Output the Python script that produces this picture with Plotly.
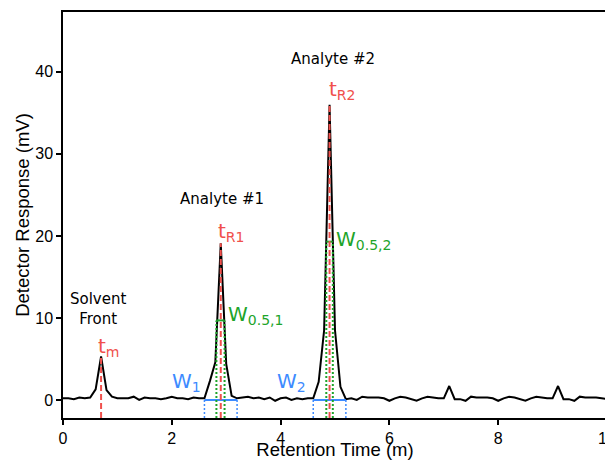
import plotly.graph_objects as go

# ---- data ----
time_min = [0.0, 0.1, 0.2, 0.3, 0.4, 0.5, 0.6, 0.7, 0.8, 0.9,
            1.0, 1.1, 1.2, 1.3, 1.4, 1.5, 1.6, 1.7, 1.8, 1.9,
            2.0, 2.1, 2.2, 2.3, 2.4, 2.5, 2.6, 2.7, 2.8, 2.9,
            3.0, 3.1, 3.2, 3.3, 3.4, 3.5, 3.6, 3.7, 3.8, 3.9,
            4.0, 4.1, 4.2, 4.3, 4.4, 4.5, 4.6, 4.7, 4.8, 4.9,
            5.0, 5.1, 5.2, 5.3, 5.4, 5.5, 5.6, 5.7, 5.8, 5.9,
            6.0, 6.1, 6.2, 6.3, 6.4, 6.5, 6.6, 6.7, 6.8, 6.9,
            7.0, 7.1, 7.2, 7.3, 7.4, 7.5, 7.6, 7.7, 7.8, 7.9,
            8.0, 8.1, 8.2, 8.3, 8.4, 8.5, 8.6, 8.7, 8.8, 8.9,
            9.0, 9.1, 9.2, 9.3, 9.4, 9.5, 9.6, 9.7, 9.8, 9.9, 10.0]
response_mv = [0.2, 0.2, 0.1, 0.3, 0.2, 0.3, 1.3, 5.3, 1.2, 0.4,
               0.2, 0.2, 0.2, 0.4, 0.0, 0.3, 0.2, 0.2, 0.1, 0.2,
               0.4, 0.2, 0.2, 0.1, 0.3, 0.2, 0.2, 2.3, 4.6, 19.1,
               4.4, 0.5, 0.2, 0.3, 0.4, 0.2, 0.3, 0.1, 0.3, -0.1,
               0.2, 0.3, 0.0, 0.2, 0.1, 0.2, 0.2, 2.2, 8.5, 36.0,
               8.5, 1.6, 0.1, 0.2, 0.0, 0.4, 0.3, 0.3, 0.3, 0.2,
               -0.1, 0.2, 0.4, 0.3, 0.1, -0.1, 0.2, 0.4, 0.3, 0.2,
               0.2, 1.7, 0.1, 0.1, -0.1, 0.4, 0.3, 0.3, 0.3, 0.2,
               -0.1, 0.2, 0.4, 0.3, 0.1, -0.1, 0.2, 0.4, 0.3, 0.2,
               0.2, 1.7, 0.1, 0.1, -0.1, 0.4, 0.3, 0.3, 0.3, 0.2, 0.1]

# retention times and peak heights (solvent front, analyte 1, analyte 2)
ret_times = [0.7, 2.9, 4.9]
peak_heights = [5.3, 19.1, 36.0]
# base widths (analyte 1, analyte 2)
base_start = [2.6, 4.6]
base_end = [3.2, 5.2]
# half-height widths
half_start = [2.82, 4.84]
half_end = [2.97, 4.96]
half_level = [9.7, 19.3]

x_ticks = [0, 2, 4, 6, 8, 10]
y_ticks = [0, 10, 20, 30, 40]
y_range = [-2.2, 47.3]
x_range = [0, 10]

RED = "#f0504c"
GREEN = "#1ea42a"
BLUE = "#3d8bff"

fig = go.Figure()

# chromatogram
fig.add_trace(go.Scatter(x=time_min, y=response_mv, mode="lines",
                         line=dict(color="black", width=2), hoverinfo="skip"))

# base widths (blue)
for s, e in zip(base_start, base_end):
    fig.add_trace(go.Scatter(x=[s, e], y=[0, 0], mode="lines",
                             line=dict(color=BLUE, width=2)))
    for xv in (s, e):
        fig.add_trace(go.Scatter(x=[xv, xv], y=[y_range[0], 0], mode="lines",
                                 line=dict(color=BLUE, width=1.5, dash="2px,2px")))

# half-height widths (green)
for s, e, h in zip(half_start, half_end, half_level):
    fig.add_trace(go.Scatter(x=[s, e], y=[h, h], mode="lines",
                             line=dict(color=GREEN, width=2)))
    for xv in (s, e):
        fig.add_trace(go.Scatter(x=[xv, xv], y=[y_range[0], h], mode="lines",
                                 line=dict(color=GREEN, width=2, dash="2px,2px")))

# retention times (red dashed)
for t, h in zip(ret_times, peak_heights):
    fig.add_trace(go.Scatter(x=[t, t], y=[y_range[0], h], mode="lines",
                             line=dict(color=RED, width=2, dash="6px,3px")))

ann_font = "DejaVu Sans"
def label(x, y, text, color="black", size=15, xanchor="center"):
    fig.add_annotation(x=x, y=y, text=text, showarrow=False,
                       font=dict(family=ann_font, size=size, color=color),
                       xanchor=xanchor, yanchor="middle")

label(0.635, 11.1, "Solvent<br>Front")
label(2.92, 24.5, "Analyte #1")
label(4.97, 41.6, "Analyte #2")
label(0.60, 6.4, "t<sub>m</sub>", RED, 20, "left")
label(2.81, 20.5, "t<sub>R1</sub>", RED, 20, "left")
label(4.85, 37.8, "t<sub>R2</sub>", RED, 20, "left")
label(3.0, 10.4, "W<sub>0.5,1</sub>", GREEN, 20, "left")
label(4.98, 19.5, "W<sub>0.5,2</sub>", GREEN, 20, "left")
label(1.97, 2.2, "W<sub>1</sub>", BLUE, 20, "left")
label(3.90, 2.2, "W<sub>2</sub>", BLUE, 20, "left")

axis_font = dict(family="Liberation Sans, Arial", size=16, color="black")
fig.update_xaxes(range=x_range, tickvals=x_ticks, ticks="outside", ticklen=5,
                 tickwidth=1.5, tickcolor="black", showline=True, linecolor="black",
                 linewidth=1.5, mirror=True, showgrid=False, zeroline=False,
                 tickfont=axis_font, automargin=False, ticklabeloverflow="allow",
                 title=dict(text="Retention Time (m)", standoff=6,
                            font=dict(family="Liberation Sans, Arial", size=18.5, color="black")))
fig.update_yaxes(range=y_range, tickvals=y_ticks, ticks="outside", ticklen=5,
                 tickwidth=1.5, tickcolor="black", showline=True, linecolor="black",
                 linewidth=1.5, mirror=True, showgrid=False, zeroline=False,
                 tickfont=axis_font, automargin=False,
                 title=dict(text="Detector Response (mV)", standoff=1,
                            font=dict(family="Liberation Sans, Arial", size=18.5, color="black")))

# the page places the figure 8px from the top-left corner of the window
fig.update_layout(width=605, height=452, showlegend=False,
                  margin=dict(l=55, r=6, t=4, b=42),
                  plot_bgcolor="white", paper_bgcolor="white")

fig.write_html("out.html")
